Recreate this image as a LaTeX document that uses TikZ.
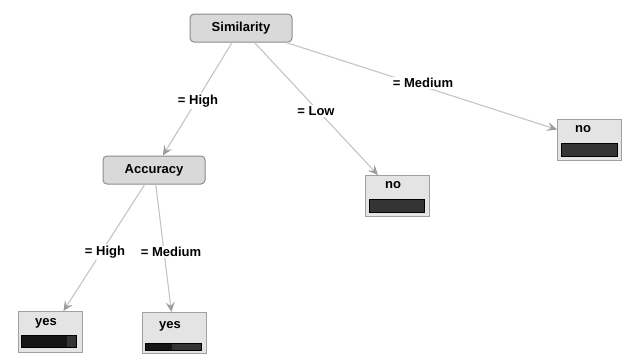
\documentclass[tikz,border=0pt]{standalone}
\usepackage{fontspec}
\setmainfont{Liberation Sans}
\usetikzlibrary{arrows.meta}
\definecolor{edgegray}{HTML}{C4C4C4}
\definecolor{tipgray}{HTML}{9C9C9C}
\definecolor{innerfill}{HTML}{D9D9D9}
\definecolor{innerline}{HTML}{8C8C8C}
\definecolor{leaffill}{HTML}{E4E4E4}
\definecolor{leafline}{HTML}{A0A0A0}
\definecolor{bardark}{HTML}{161616}
\definecolor{barmid}{HTML}{343434}
\tikzset{
  inner/.style={draw=innerline, fill=innerfill, rounded corners=4pt, line width=1pt,
    minimum width=102pt, minimum height=28pt, inner sep=0pt,
    font=\fontsize{13}{15}\selectfont\bfseries},
  leaf/.style={draw=leafline, fill=leaffill, line width=1pt,
    minimum width=64pt, minimum height=41pt, inner sep=0pt},
  leaftext/.style={font=\fontsize{13}{15}\selectfont\bfseries, inner sep=0pt},
  lab/.style={fill=white, inner sep=1.5pt, font=\fontsize{13}{15}\selectfont\bfseries},
  edge/.style={draw=edgegray, line width=1.1pt,
    -{Stealth[length=10pt,width=9pt,inset=4pt,color=tipgray,fill=tipgray]}},
  barframe/.style={draw=black, line width=0.6pt},
}
\begin{document}
\begin{tikzpicture}[x=1pt,y=-1pt]
\useasboundingbox (0,0) rectangle (623,354);
% inner nodes
\node[inner] (sim) at (241,28) {Similarity};
\node[inner] (acc) at (154,170) {Accuracy};
% leaves
\node[leaf] (noM) at (397.5,196) {};
\node[leaf] (noR) at (589.5,140) {};
\node[leaf] (yesL) at (50,332) {};
\node[leaf] (yesR) at (174,333) {};
% leaf texts
\node[leaftext] (tnoM) at (393,185) {no};
\node[leaftext] (tnoR) at (583,129) {no};
\node[leaftext] (tyesL) at (46,323) {yes};
\node[leaftext] (tyesR) at (170,326) {yes};
% bars
\fill[barmid] (369,199) rectangle (424,212);
\draw[barframe] (369,199) rectangle (424,212);
\fill[barmid] (561,143) rectangle (617,156);
\draw[barframe] (561,143) rectangle (617,156);
\fill[bardark] (21,335) rectangle (67,347);
\fill[barmid] (67,335) rectangle (76,347);
\draw[barframe] (21,335) rectangle (76,347);
\fill[bardark] (145,343) rectangle (172,350);
\fill[barmid] (172,343) rectangle (201,350);
\draw[barframe] (145,343) rectangle (201,350);
% edges
\draw[edge] (sim) -- (acc);
\draw[edge] (sim) -- (noM);
\draw[edge] (sim) -- (noR);
\draw[edge] (acc) -- (yesL);
\draw[edge] (acc) -- (yesR);
% edge labels
\node[lab] (l1) at (198,101) {= High};
\node[lab] (l2) at (316,111) {= Low};
\node[lab] (l3) at (423,83) {= Medium};
\node[lab] (l4) at (105,252) {= High};
\node[lab] (l5) at (171,252) {= Medium};
\end{tikzpicture}
\end{document}
